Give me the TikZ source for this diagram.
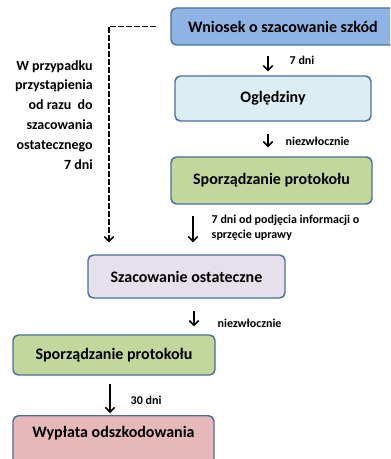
\documentclass[tikz,border=0pt]{standalone}
\usepackage{fontspec}
\setmainfont{Carlito}
\usetikzlibrary{arrows.meta}
\definecolor{ramka}{HTML}{4A6F9C}
\definecolor{niebieski}{HTML}{8EB4E3}
\definecolor{blekitny}{HTML}{DBEEF4}
\definecolor{zielony}{HTML}{C3D69B}
\definecolor{lawenda}{HTML}{E6E0EC}
\definecolor{rozowy}{HTML}{E6B9B8}
\tikzset{x=0.75pt, y=-0.75pt,
    etap/.style={
        draw=ramka,
        line width=1.1pt,
        rounded corners=4pt,
        font=\bfseries\fontsize{12}{14}\selectfont},
    strzalka/.style={
        -{Straight Barb[length=3.5pt,width=7pt]},
        line width=1.1pt},
    opis/.style={
        font=\bfseries\fontsize{9}{11.25}\selectfont,
        anchor=west,
        align=left,
        inner sep=0pt}}

\begin{document}
\begin{tikzpicture}
        \clip (0,0) rectangle (390,459);
        \node[etap,fill=niebieski,minimum width=168pt,minimum height=27.75pt] (wniosek) at (283,26.5) {Wniosek o szacowanie szkód};
        \node[etap,fill=blekitny,minimum width=147pt,minimum height=33.75pt] (ogledziny) at (273,98.5) {Oględziny};
        \node[etap,fill=zielony,minimum width=150.75pt,minimum height=35.25pt] (protokol) at (271.5,180.5) {Sporządzanie protokołu};
        \node[etap,fill=lawenda,minimum width=147.75pt,minimum height=32.25pt] (szacowanie) at (186.5,276.5) {Szacowanie ostateczne};
        \node[etap,fill=zielony,minimum width=151.5pt,minimum height=30pt] (protokol2) at (114,355) {Sporządzanie protokołu};
        \node[etap,fill=rozowy,anchor=north,minimum width=150.75pt,inner ysep=4pt,text height=12pt,text depth=21.25pt] (wyplata) at (113.5,415) {Wypłata odszkodowania};

        % objasnienie po lewej
        \node[anchor=north east,align=right,inner sep=0pt,font=\bfseries\fontsize{10.5}{14.85}\selectfont] (skrot) at (93,60) {W przypadku\\przystąpienia\\od razu\ \ do\\szacowania\\ostatecznego\\7 dni};

        \coordinate (s1) at (268,0);
        \coordinate (s2) at (193,0);
        \coordinate (s3) at (194,0);
        \coordinate (s4) at (110,0);
        \coordinate (d1) at (109,0);

        \draw[strzalka,shorten <=7.5pt,shorten >=3pt] (wniosek.south -| s1) -- node[opis,xshift=15.75pt] {7 dni} (ogledziny.north -| s1);
        \draw[strzalka,shorten <=9pt,shorten >=6.75pt] (ogledziny.south -| s1) -- node[opis,xshift=12.75pt,yshift=-2pt] {niezwłocznie} (protokol.north -| s1);
        \draw[strzalka,shorten <=8.25pt,shorten >=9pt] (protokol.south -| s2) -- node[opis,xshift=13.5pt,yshift=1.5pt] {7 dni od podjęcia informacji o\\sprzęcie uprawy} (szacowanie.north -| s2);
        \draw[strzalka,shorten <=9pt,shorten >=6pt] (szacowanie.south -| s3) -- node[opis,xshift=17.25pt,yshift=-5pt] {niezwłocznie} (protokol2.north -| s3);
        \draw[strzalka,shorten <=6pt,shorten >=1.5pt] (protokol2.south -| s4) -- node[opis,xshift=15pt,yshift=-4pt] {30 dni} (wyplata.north -| s4);

        %\draw[strzalka] (wniosek) -- (szacowanie);
        \draw[strzalka,dash pattern=on 4.5pt off 1.5pt,shorten <=10.5pt,shorten >=9pt] (wniosek.west) -| (szacowanie.north -| d1);
    \end{tikzpicture}
\end{document}
